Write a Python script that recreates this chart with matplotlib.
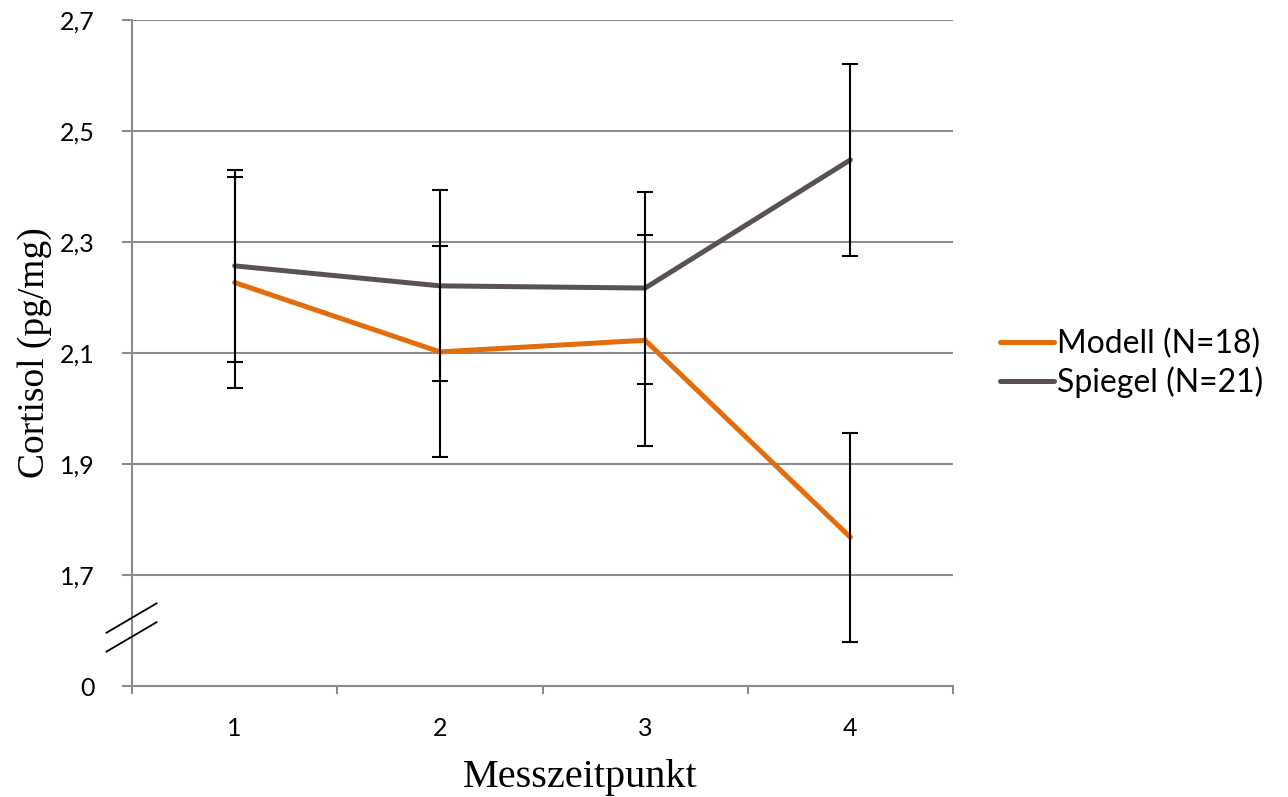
import matplotlib
matplotlib.use("Agg")
import matplotlib.pyplot as plt
import matplotlib.transforms as mtransforms
import numpy as np

plt.rcParams["font.family"] = "Lato"

# data
timepoints = [1, 2, 3, 4]
timepoint_labels = ["1", "2", "3", "4"]

modell_mean = [2.227, 2.102, 2.123, 1.768]
modell_err = [0.190, 0.190, 0.190, 0.188]

spiegel_mean = [2.257, 2.221, 2.217, 2.448]
spiegel_err = [0.173, 0.172, 0.173, 0.173]

series_names = ["Modell (N=18)", "Spiegel (N=21)"]

ytick_values = [1.5, 1.7, 1.9, 2.1, 2.3, 2.5, 2.7]
ytick_labels = ["0", "1,7", "1,9", "2,1", "2,3", "2,5", "2,7"]

orange = "#e46c0a"
grey = "#5a5157"
axis_grey = "#8c8c8c"

fig = plt.figure(figsize=(12.88, 7.97), dpi=100)
ax = fig.add_axes([132 / 1288, 1 - 686 / 797, 821 / 1288, 666 / 797])

ax.plot(timepoints, modell_mean, color=orange, lw=3.6, solid_capstyle="round",
        solid_joinstyle="round", zorder=3, label=series_names[0])
ax.plot(timepoints, spiegel_mean, color=grey, lw=3.6, solid_capstyle="round",
        solid_joinstyle="round", zorder=3, label=series_names[1])

for means, errs in [(modell_mean, modell_err), (spiegel_mean, spiegel_err)]:
    ax.errorbar(timepoints, means, yerr=errs, fmt="none", ecolor="black",
                elinewidth=1.5, capsize=5.8, capthick=1.5, zorder=4)

ax.set_xlim(0.5, 4.5)
ax.set_ylim(1.5, 2.7)

ax.set_yticks(ytick_values)
ax.set_yticklabels(ytick_labels)
ax.yaxis.grid(True, color=axis_grey, lw=1.5, zorder=0)
ax.tick_params(axis="y", length=7, width=1.5, color=axis_grey, pad=20, labelsize=18)

# category axis: ticks between categories, labels at the centres
ax.set_xticks(np.arange(0.5, 4.6, 1.0))
ax.set_xticklabels([])
ax.set_xticks(timepoints, minor=True)
ax.set_xticklabels(timepoint_labels, minor=True)
ax.tick_params(axis="x", which="major", length=6, width=1.5, color=axis_grey)
ax.tick_params(axis="x", which="minor", length=0, pad=22, labelsize=18)

for side in ["top", "right"]:
    ax.spines[side].set_visible(False)
for side in ["left", "bottom"]:
    ax.spines[side].set_color(axis_grey)
    ax.spines[side].set_linewidth(1.5)

ax.set_ylabel("Cortisol (pg/mg)", family="Liberation Serif", fontsize=27, va="center")
ax.yaxis.set_label_coords(-0.119, 0.5)
ax.set_xlabel("Messzeitpunkt", family="Liberation Serif", fontsize=29, va="center")
ax.xaxis.set_label_coords(0.546, -0.137)

# axis break marks
trans = mtransforms.blended_transform_factory(ax.transAxes, ax.transData)
for y0, y1 in [(1.596, 1.649), (1.562, 1.615)]:
    ax.plot([-0.031, 0.030], [y0, y1], color="black", lw=1.3, transform=trans,
            clip_on=False, zorder=5)

ax.legend(loc="center left", bbox_to_anchor=(1.022, 0.484), frameon=False,
          fontsize=23, handlelength=1.7, handletextpad=0.1, labelspacing=0.22)

plt.savefig("out.png", dpi=100)
